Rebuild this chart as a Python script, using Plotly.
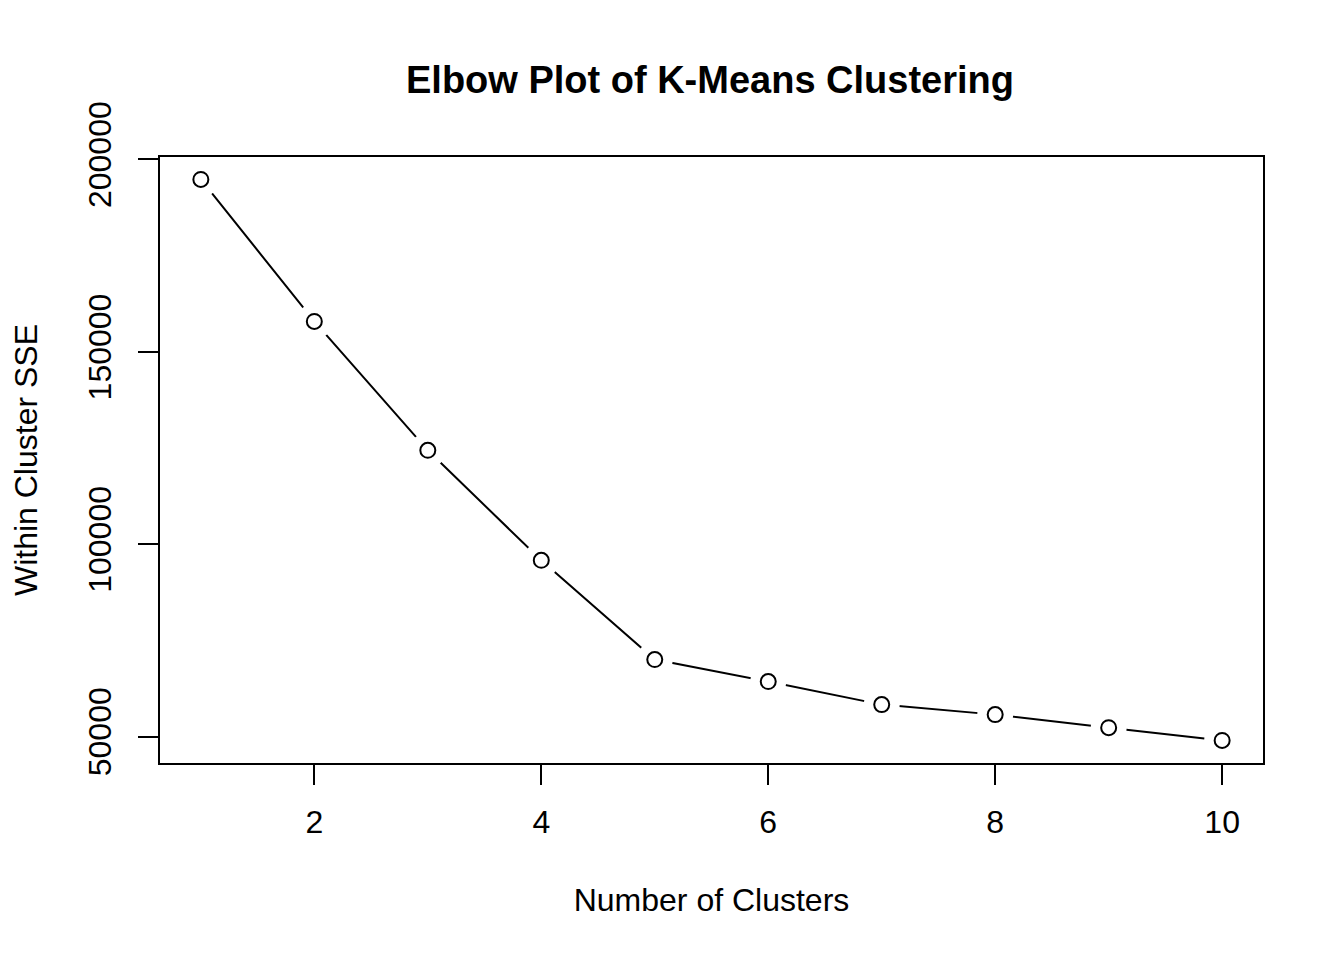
import plotly.graph_objects as go

# dados (k de 1 a 10)
clusters = [1, 2, 3, 4, 5, 6, 7, 8, 9, 10]
sse = [194800, 157900, 124400, 95800, 70000, 64300, 58300, 55700, 52300, 49000]

x_ticks = [2, 4, 6, 8, 10]
y_ticks = [50000, 100000, 150000, 200000]

fonte = "Liberation Sans, Arial, Helvetica, sans-serif"

fig = go.Figure()

# linha ligando os pontos
fig.add_trace(go.Scatter(x=clusters, y=sse, mode="lines",
                         line=dict(color="black", width=2),
                         hoverinfo="skip", showlegend=False))
# "buraco" branco em volta de cada ponto (igual ao type = "b" do R)
fig.add_trace(go.Scatter(x=clusters, y=sse, mode="markers",
                         marker=dict(color="white", size=36, line=dict(width=0)),
                         hoverinfo="skip", showlegend=False))
# círculos abertos
fig.add_trace(go.Scatter(x=clusters, y=sse, mode="markers",
                         marker=dict(symbol="circle-open", color="black", size=15,
                                     line=dict(width=2)),
                         showlegend=False))

# a página tem 8px de margem no body, por isso os ajustes abaixo
fig.update_layout(
    width=1344, height=960,
    paper_bgcolor="white", plot_bgcolor="white",
    margin=dict(l=149, r=89, t=149, b=205),
    font=dict(family=fonte, size=32, color="black"),
    title=dict(text="<b>Elbow Plot of K-Means Clustering</b>",
               x=(149 + 1255) / 2 / 1344, xanchor="center",
               y=1 - 72 / 960, yanchor="middle",
               font=dict(size=38)),
)

fig.update_xaxes(range=[0.64, 10.36], tickvals=x_ticks,
                 showgrid=False, zeroline=False,
                 showline=True, linecolor="black", linewidth=2, mirror=True,
                 ticks="outside", ticklen=20, tickwidth=2, tickcolor="black",
                 ticklabelstandoff=10, tickfont=dict(size=32),
                 title=dict(text="Number of Clusters", standoff=49,
                            font=dict(size=32)))
fig.update_yaxes(range=[43126, 200634], tickvals=y_ticks, tickformat="d",
                 showgrid=False, zeroline=False,
                 showline=True, linecolor="black", linewidth=2, mirror=True,
                 ticks="outside", ticklen=20, tickwidth=2, tickcolor="black",
                 tickangle=-90, ticklabelstandoff=14, tickfont=dict(size=32),
                 title=dict(text="Within Cluster SSE", standoff=40,
                            font=dict(size=32)))

fig.write_html("out.html")
